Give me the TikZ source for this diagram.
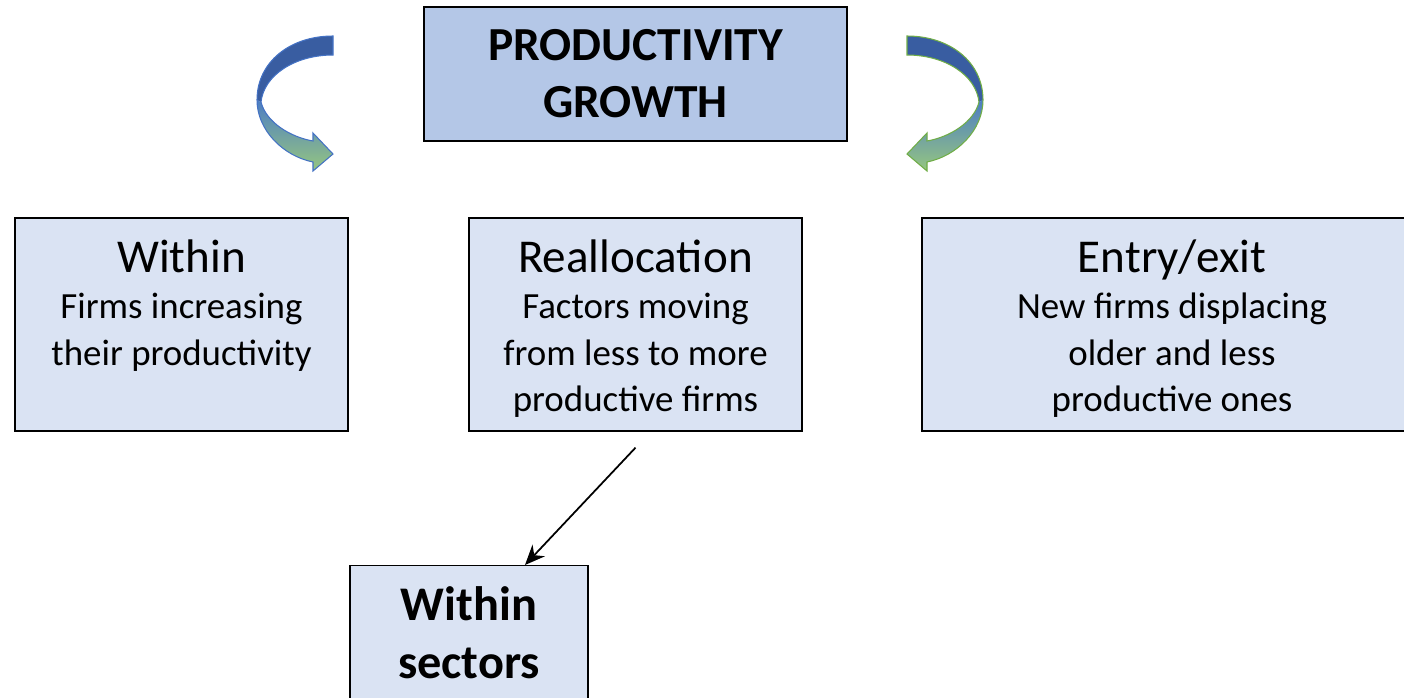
\documentclass[tikz,border=0pt]{standalone}
\usepackage{fontspec}
\setmainfont{Carlito}
\usetikzlibrary{calc,arrows.meta}

\definecolor{titlefill}{RGB}{180,199,231}
\definecolor{panelfill}{RGB}{218,227,243}
\definecolor{bandblue}{RGB}{57,93,161}
\definecolor{midblue}{RGB}{76,125,196}
\definecolor{leafgreen}{RGB}{150,198,128}
\definecolor{edgeblue}{RGB}{68,114,196}
\definecolor{edgegreen}{RGB}{112,173,71}

\tikzset{
  titlebox/.style={draw=black, line width=0.8pt, fill=titlefill, inner sep=0pt,
    minimum width=8.46cm, minimum height=2.68cm, align=center,
    font=\fontsize{27}{32.5}\selectfont\bfseries},
  panel/.style={draw=black, line width=0.8pt, fill=panelfill, inner sep=0pt,
    minimum height=4.26cm},
  sectorbox/.style={draw=black, line width=0.8pt, fill=panelfill, inner sep=0pt,
    minimum width=4.76cm, minimum height=3.4cm, anchor=north},
  link/.style={-{Stealth[length=4mm,width=3.4mm]}, line width=1pt, black}
}

% box text: heading on top, description below
\newcommand{\paneltext}[3]{\parbox[c][4.26cm][t]{#1}{\centering
  \vspace*{12.5pt}{\fontsize{26.8}{26}\selectfont #2\par}
  {\fontsize{21}{26.3}\selectfont #3\par}}}

% one curved arrow, drawn left of its box
\newcommand{\bentarrow}[1]{%
  \fill[bandblue] (333,36) .. controls (290,36) and (257,62) .. (257,100)
    -- (261,102) .. controls (264,75) and (295,55) .. (333,55) -- cycle;
  \shade[top color=midblue, bottom color=leafgreen]
    (257,100) .. controls (257,130) and (283,156) .. (313,162)
    -- (313,171) -- (333,154) -- (313,133) -- (313,141)
    .. controls (290,137) and (266,122) .. (261,102) -- cycle;
  \draw[#1, line width=0.6pt] (333,36) .. controls (290,36) and (257,62) .. (257,100)
    .. controls (257,130) and (283,156) .. (313,162)
    -- (313,171) -- (333,154) -- (313,133) -- (313,141)
    .. controls (290,137) and (266,122) .. (261,102)
    .. controls (264,75) and (295,55) .. (333,55) -- cycle;
}

\begin{document}
\begin{tikzpicture}[x=0.02cm, y=-0.02cm]
\useasboundingbox (0,0) rectangle (1404,697);
\begin{scope}
\clip (0,0) rectangle (1404,697);

\node[titlebox] (growth) at (635.5,74) {PRODUCTIVITY\\GROWTH};

\node[panel, minimum width=6.66cm] (within) at (181.5,324.5)
  {\paneltext{6.66cm}{Within}{Firms increasing\\their productivity}};
\node[panel, minimum width=6.66cm] (realloc) at (635.5,324.5)
  {\paneltext{6.66cm}{Reallocation}{Factors moving\\from less to more\\productive firms}};
\node[panel, minimum width=10cm] (entry) at (1172,324.5)
  {\paneltext{10cm}{Entry/exit}{New firms displacing\\older and less\\productive ones}};

\node[sectorbox] (sectors) at (469,565)
  {\parbox[c][3.4cm][t]{4.76cm}{\centering\vspace*{12pt}%
   \fontsize{27.5}{33}\selectfont\bfseries Within\\sectors\par}};

\coordinate (reallocfoot) at ([yshift=-0.32cm]realloc.south);
\draw[link] (reallocfoot) -- ([xshift=1.12cm]sectors.north);

\bentarrow{edgeblue}
\begin{scope}[shift={(1240,0)}, xscale=-1]
\bentarrow{edgegreen}
\end{scope}
\end{scope}
\end{tikzpicture}
\end{document}
